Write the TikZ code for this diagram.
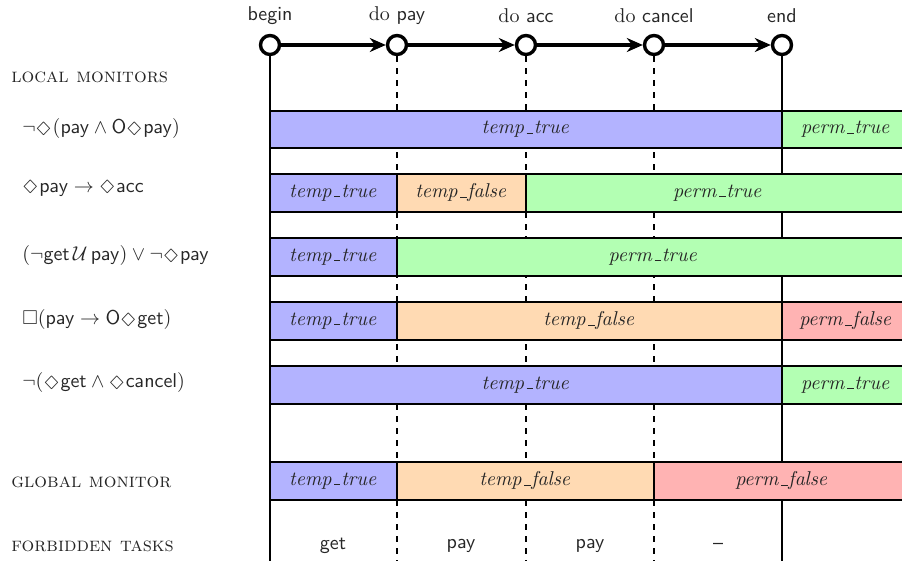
\documentclass[tikz,border=0pt]{standalone}
\usepackage{amssymb}
\usepackage{graphicx}
\usetikzlibrary{arrows.meta,calc}
\definecolor{tt}{RGB}{179,179,255}
\definecolor{tf}{RGB}{255,218,179}
\definecolor{pt}{RGB}{179,255,179}
\definecolor{pf}{RGB}{255,179,179}
\newcommand\us{\kern0.06em\vbox{\hrule width0.32em height0.45pt}\kern0.04em}
\newcommand\ev{\mathord{\raisebox{0.1ex}{\scalebox{1.2}[0.8]{$\Diamond$}}\kern0.05em}}
\newcommand\nx{\mathord{\mathsf{O}}}
\newcommand\st[1]{$\mathit{#1}$}
\newcommand\seg[7]{%
  \draw[seg,fill=#6] (#2,#4) rectangle (#3,#5);
  \node[segtext] (#1) at ({(#2+#3)/2},{(#4+#5)/2}) {#7};}
\begin{document}
\begin{tikzpicture}[x=0.5pt,y=-0.5pt,
  stage/.style={circle,draw,line width=1.7pt,fill=white,minimum size=9.5pt,inner sep=0pt},
  flow/.style={-{Stealth[length=8pt,width=7pt]},line width=1.6pt},
  seg/.style={draw,line width=1.2pt},
  segtext/.style={inner sep=0pt,text=black!85},
  lbl/.style={anchor=west,inner sep=0pt,text=black!85},
  toplbl/.style={inner sep=0pt,text=black!85},
  solidline/.style={line width=0.6pt},
  dashline/.style={line width=0.8pt,dash pattern=on 3pt off 3pt}]
\clip (0,0) rectangle (902,561);
% timeline stages
\node[stage] (c1) at (270,45) {};
\node[stage] (c2) at (397,45) {};
\node[stage] (c3) at (526,45) {};
\node[stage] (c4) at (654,45) {};
\node[stage] (c5) at (782,45) {};
\coordinate (b1) at (270,565);
\coordinate (b2) at (397,565);
\coordinate (b3) at (526,565);
\coordinate (b4) at (654,565);
\coordinate (b5) at (782,565);
% vertical guide lines
\draw[solidline] (c1.south) -- (b1);
\draw[dashline] (c2.south) -- (b2);
\draw[dashline] (c3.south) -- (b3);
\draw[dashline] (c4.south) -- (b4);
\draw[solidline] (c5.south) -- (b5);
% stage labels
\node[toplbl] (l1) at (270,16) {\textsf{begin}};
\node[toplbl] (l2) at (397,16) {do \textsf{pay}};
\node[toplbl] (l3) at (526,16) {do \textsf{acc}};
\node[toplbl] (l4) at (654,16) {do \textsf{cancel}};
\node[toplbl] (l5) at (782,16) {\textsf{end}};
% arrows
\draw[flow] (c1) -- (c2);
\draw[flow] (c2) -- (c3);
\draw[flow] (c3) -- (c4);
\draw[flow] (c4) -- (c5);
% left labels
\node[lbl] (hl) at (11,77) {\textsc{local monitors}};
\node[lbl] (f1) at (22,129) {$\neg\ev(\mathsf{pay}\wedge \nx\ev\mathsf{pay})$};
\node[lbl] (f2) at (22,188) {$\ev\mathsf{pay}\rightarrow\ev\mathsf{acc}$};
\node[lbl] (f3) at (22,256) {$(\neg\mathsf{get}\,\mathcal{U}\,\mathsf{pay})\vee\neg\ev\mathsf{pay}$};
\node[lbl] (f4) at (22,320) {$\Box(\mathsf{pay}\rightarrow\nx\ev\mathsf{get})$};
\node[lbl] (f5) at (22,383) {$\neg(\ev\mathsf{get}\wedge\ev\mathsf{cancel})$};
\node[lbl] (hg) at (11,482) {\textsc{global monitor}};
\node[lbl] (hf) at (11,546) {\textsc{forbidden tasks}};
% row 1
\seg{r1a}{270}{782}{111}{148}{tt}{\st{temp}\us\st{true}}
\seg{r1b}{782}{910}{111}{148}{pt}{\st{perm}\us\st{true}}
% row 2
\seg{r2a}{270}{397}{174}{212}{tt}{\st{temp}\us\st{true}}
\seg{r2b}{397}{526}{174}{212}{tf}{\st{temp}\us\st{false}}
\seg{r2c}{526}{910}{174}{212}{pt}{\st{perm}\us\st{true}}
% row 3
\seg{r3a}{270}{397}{238}{276}{tt}{\st{temp}\us\st{true}}
\seg{r3b}{397}{910}{238}{276}{pt}{\st{perm}\us\st{true}}
% row 4
\seg{r4a}{270}{397}{302}{340}{tt}{\st{temp}\us\st{true}}
\seg{r4b}{397}{782}{302}{340}{tf}{\st{temp}\us\st{false}}
\seg{r4c}{782}{910}{302}{340}{pf}{\st{perm}\us\st{false}}
% row 5
\seg{r5a}{270}{782}{366}{404}{tt}{\st{temp}\us\st{true}}
\seg{r5b}{782}{910}{366}{404}{pt}{\st{perm}\us\st{true}}
% global
\seg{g1}{270}{397}{462}{500}{tt}{\st{temp}\us\st{true}}
\seg{g2}{397}{654}{462}{500}{tf}{\st{temp}\us\st{false}}
\seg{g3}{654}{910}{462}{500}{pf}{\st{perm}\us\st{false}}
% forbidden tasks
\node[segtext] (t1) at (333,546) {\textsf{get}};
\node[segtext] (t2) at (461,546) {\textsf{pay}};
\node[segtext] (t3) at (590,546) {\textsf{pay}};
\node[segtext] (t4) at (718,546) {\textsf{--}};
\end{tikzpicture}
\end{document}
